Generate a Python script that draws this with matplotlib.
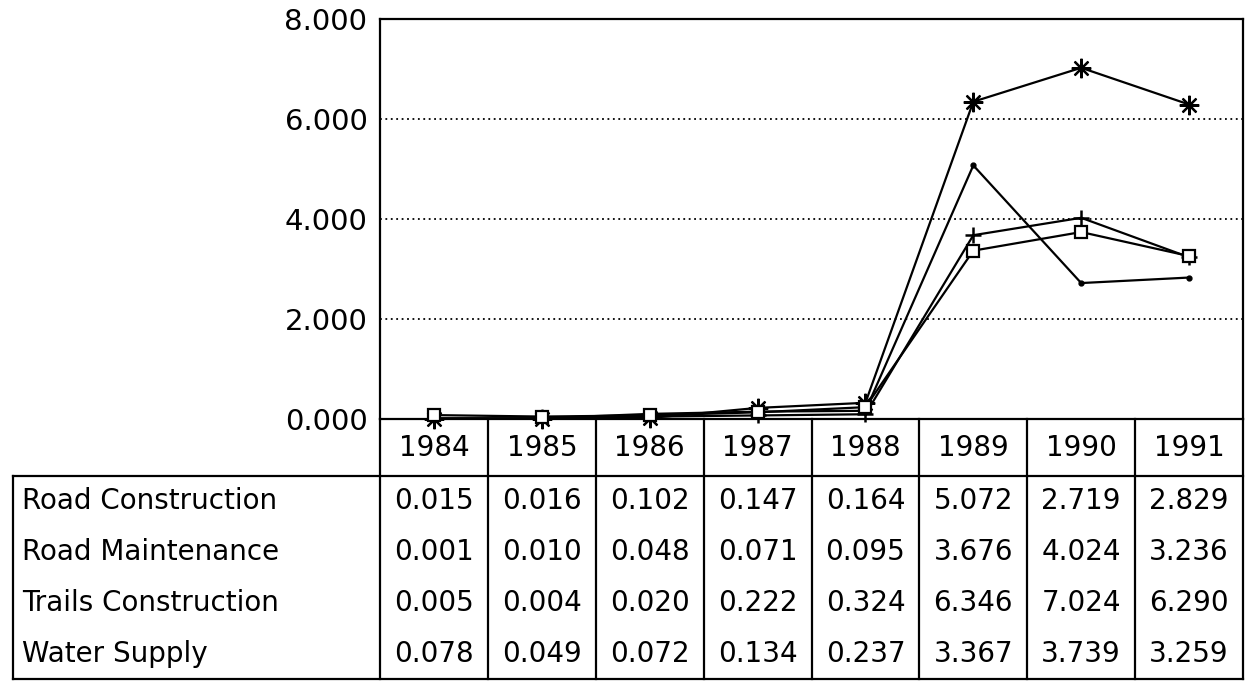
import matplotlib.pyplot as plt
import matplotlib.transforms as mtransforms

years = ["1984", "1985", "1986", "1987", "1988", "1989", "1990", "1991"]
series_names = ["Road Construction", "Road Maintenance", "Trails Construction", "Water Supply"]
road_construction = [0.015, 0.016, 0.102, 0.147, 0.164, 5.072, 2.719, 2.829]
road_maintenance = [0.001, 0.010, 0.048, 0.071, 0.095, 3.676, 4.024, 3.236]
trails_construction = [0.005, 0.004, 0.020, 0.222, 0.324, 6.346, 7.024, 6.290]
water_supply = [0.078, 0.049, 0.072, 0.134, 0.237, 3.367, 3.739, 3.259]
y_ticks = [0, 2, 4, 6, 8]

series = [road_construction, road_maintenance, trails_construction, water_supply]
marker_styles = [
    dict(marker="o", markersize=3.5, markerfacecolor="black"),
    dict(marker="+", markersize=12, markeredgewidth=1.8),
    dict(marker=(8, 2, 0), markersize=14, markeredgewidth=1.6),
    dict(marker="s", markersize=8, markerfacecolor="white", markeredgewidth=1.6),
]

plt.rcParams["font.family"] = ["DejaVu Sans"]

W, H = 1246, 685
fig = plt.figure(figsize=(W / 100, H / 100), dpi=100)
ax = fig.add_axes([380 / W, 1 - 419 / H, (1243 - 380) / W, 400 / H])

x = list(range(len(years)))
for vals, ms in zip(series, marker_styles):
    ax.plot(x, vals, color="black", linewidth=1.6, markeredgecolor="black", **ms, clip_on=False, zorder=3)

ax.set_xlim(-0.5, len(years) - 0.5)
ax.set_ylim(0, 8)
ax.set_xticks([])
ax.set_yticks(y_ticks)
ax.set_yticklabels([f"{v:.3f}" for v in y_ticks], fontsize=21)
ax.tick_params(axis="y", length=0, pad=9)
ax.grid(axis="y", linestyle=(0, (1, 2)), color="black", linewidth=1.3)
for s in ax.spines.values():
    s.set_linewidth(1.6)

# table under the plot
hdr = 57 / 400
bottom = 260 / 400
row_h = (bottom - hdr) / len(series_names)
tdata = mtransforms.blended_transform_factory(ax.transData, ax.transAxes)
tfig = mtransforms.blended_transform_factory(fig.transFigure, ax.transAxes)
line_kw = dict(color="black", linewidth=1.6, clip_on=False)

for i in range(len(years) + 1):
    ax.plot([i - 0.5, i - 0.5], [0, -bottom], transform=tdata, **line_kw)
ax.plot([13 / W, 1243 / W], [-hdr, -hdr], transform=tfig, **line_kw)
ax.plot([13 / W, 1243 / W], [-bottom, -bottom], transform=tfig, **line_kw)
ax.plot([13 / W, 13 / W], [-hdr, -bottom], transform=tfig, **line_kw)

for i, yr in enumerate(years):
    ax.text(i, -hdr / 2, yr, transform=tdata, ha="center", va="center", fontsize=20)

for r, (name, vals) in enumerate(zip(series_names, series)):
    yc = -(hdr + (r + 0.5) * row_h)
    ax.text(22 / W, yc, name, transform=tfig, ha="left", va="center", fontsize=20)
    for i, v in enumerate(vals):
        ax.text(i, yc, f"{v:.3f}", transform=tdata, ha="center", va="center", fontsize=20)

fig.savefig("out.png", dpi=100)
